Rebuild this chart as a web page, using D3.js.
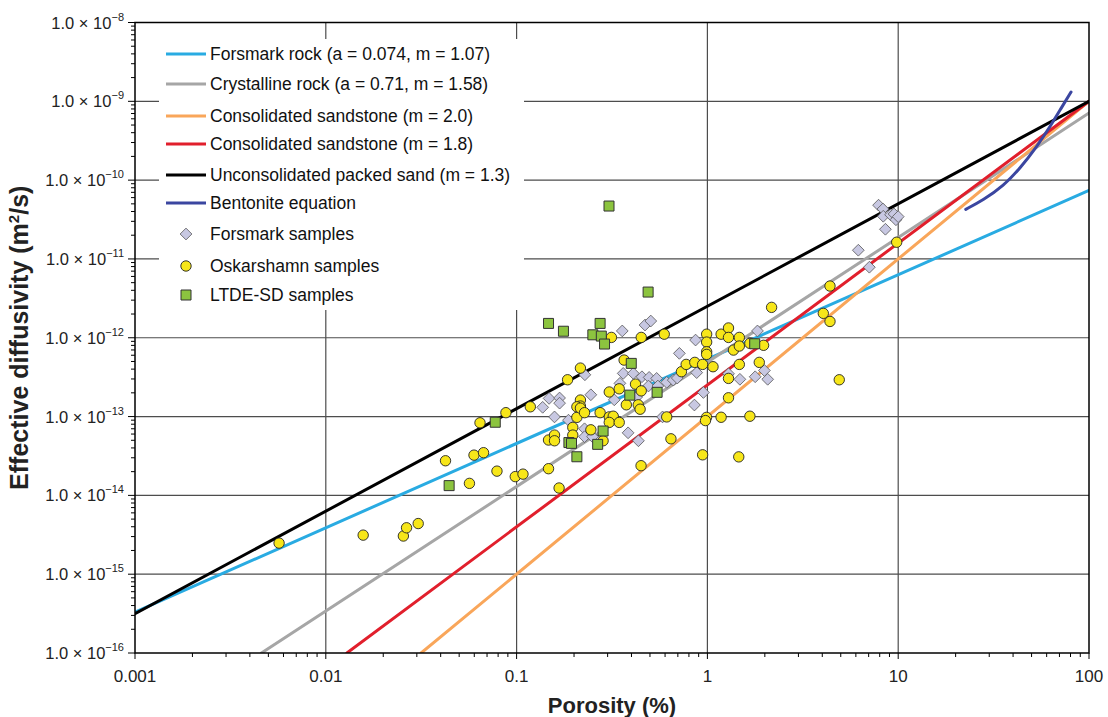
<!DOCTYPE html>
<html>
<head>
<meta charset="utf-8">
<script src="https://cdn.jsdelivr.net/npm/d3@7"></script>
<style>
  body { margin: 0; background: #fff; }
  svg { display: block; font-family: "Liberation Sans", Arial, sans-serif; }
</style>
</head>
<body>
<svg id="chart"></svg>
<script>
// porosity (%), effective diffusivity (m2/s)
const forsmarkSamples = [
  [0.148, 1.70e-13], [0.168, 1.72e-13], [0.168, 1.48e-13], [0.137, 1.31e-13], [0.158, 9.9e-14],
  [0.187, 9.0e-14], [0.228, 3.39e-13], [0.245, 1.89e-13], [0.227, 7.0e-14], [0.227, 5.55e-14],
  [0.250, 5.55e-14], [0.325, 1.63e-13], [0.348, 2.64e-13], [0.362, 3.53e-13], [0.409, 3.53e-13],
  [0.454, 3.20e-13], [0.495, 3.14e-13], [0.542, 3.05e-13], [0.491, 2.44e-13], [0.550, 2.44e-13],
  [0.612, 2.72e-13], [0.662, 2.90e-13], [0.695, 3.08e-13], [0.426, 1.77e-13], [0.384, 6.22e-14],
  [0.435, 4.93e-14], [0.358, 1.22e-12], [0.471, 1.45e-12], [0.505, 1.63e-12], [0.713, 6.34e-13],
  [0.867, 9.35e-13], [0.879, 3.61e-13], [0.855, 1.40e-13], [0.582, 9.9e-14], [0.953, 2.02e-13],
  [1.29, 3.49e-13], [1.48, 2.97e-13], [1.78, 3.20e-13], [1.99, 3.84e-13], [2.07, 2.97e-13],
  [1.83, 1.22e-12], [6.18, 1.29e-11], [7.06, 7.85e-12], [8.57, 2.38e-11], [7.89, 4.81e-11],
  [8.32, 4.30e-11], [8.35, 3.48e-11], [9.12, 3.63e-11], [9.51, 3.72e-11], [9.73, 3.14e-11],
  [10.0, 3.44e-11]
];

const oskarshamnSamples = [
  [0.00569, 2.48e-15], [0.0157, 3.13e-15], [0.0255, 3.05e-15], [0.0265, 3.88e-15], [0.0305, 4.39e-15],
  [0.0424, 2.75e-14], [0.0566, 1.42e-14], [0.0598, 3.24e-14], [0.0671, 3.48e-14], [0.0643, 8.34e-14],
  [0.0789, 2.03e-14], [0.0879, 1.12e-13], [0.0984, 1.73e-14], [0.108, 1.86e-14], [0.118, 1.33e-13],
  [0.147, 2.18e-14], [0.167, 1.24e-14], [0.147, 5.04e-14], [0.158, 5.82e-14], [0.158, 4.93e-14],
  [0.197, 7.29e-14], [0.197, 5.82e-14], [0.207, 9.77e-14], [0.216, 1.62e-13], [0.216, 1.36e-13],
  [0.207, 1.33e-13], [0.216, 1.28e-13], [0.227, 1.12e-13], [0.185, 2.93e-13], [0.216, 4.12e-13],
  [0.245, 6.79e-14], [0.274, 1.12e-13], [0.284, 4.93e-14], [0.306, 9.9e-14], [0.321, 1.01e-13],
  [0.306, 8.43e-14], [0.345, 8.43e-14], [0.306, 2.05e-13], [0.345, 2.25e-13], [0.420, 2.58e-13],
  [0.450, 2.12e-13], [0.376, 1.41e-13], [0.434, 1.41e-13], [0.444, 1.24e-13], [0.644, 5.22e-14],
  [0.449, 2.38e-14], [0.366, 5.21e-13], [0.314, 1.01e-12], [0.450, 1.01e-12], [0.594, 1.11e-12],
  [0.612, 9.9e-14], [0.731, 3.71e-13], [0.774, 4.59e-13], [0.859, 4.87e-13], [0.944, 4.59e-13],
  [1.07, 4.29e-13], [0.991, 1.11e-12], [0.991, 8.81e-13], [0.991, 6.64e-13], [0.991, 6.15e-13],
  [1.18, 1.11e-12], [1.29, 1.33e-12], [1.29, 1.01e-12], [1.47, 1.01e-12], [1.37, 6.98e-13],
  [1.47, 7.85e-13], [1.67, 8.49e-13], [1.97, 8.02e-13], [1.47, 4.59e-13], [1.87, 4.87e-13],
  [1.29, 3.05e-13], [1.29, 1.73e-13], [0.99, 9.77e-14], [0.977, 8.89e-14], [1.18, 9.8e-14],
  [1.67, 1.01e-13], [0.944, 3.27e-14], [1.46, 3.08e-14], [2.17, 2.43e-12], [4.05, 2.04e-12],
  [4.39, 1.61e-12], [4.39, 4.53e-12], [9.82, 1.63e-11], [4.91, 2.93e-13]
];

const ltdeSamples = [
  [0.305, 4.69e-11], [0.489, 3.80e-12], [0.147, 1.52e-12], [0.176, 1.21e-12], [0.274, 1.52e-12],
  [0.251, 1.09e-12], [0.278, 1.05e-12], [0.289, 8.32e-13], [0.399, 4.73e-13], [0.392, 1.87e-13],
  [0.545, 2.03e-13], [0.284, 6.55e-14], [0.266, 4.44e-14], [0.188, 4.68e-14], [0.194, 4.57e-14],
  [0.207, 3.09e-14], [0.0773, 8.47e-14], [0.0443, 1.33e-14], [1.77, 8.39e-13]
];

// model lines, straight on log-log axes: end points
const forsmarkRock = [[0.001, 3.3e-16], [100, 7.4e-11]];
const crystallineRock = [[0.0046, 1e-16], [100, 7.1e-10]];
const sandstone20 = [[0.0316, 1e-16], [100, 1e-9]];
const sandstone18 = [[0.0129, 1e-16], [100, 1e-9]];
const packedSand = [[0.001, 3.16e-16], [100, 1e-9]];
const bentoniteCurve = [
  [22.6, 4.26e-11], [27.9, 5.58e-11], [35.6, 8.41e-11], [43.5, 1.41e-10],
  [53.2, 2.65e-10], [62.5, 4.76e-10], [70.5, 7.76e-10], [80.5, 1.31e-9]
];

const xTicks = [0.001, 0.01, 0.1, 1, 10, 100];
const xTickLabels = ["0.001", "0.01", "0.1", "1", "10", "100"];
const yExponents = [-16, -15, -14, -13, -12, -11, -10, -9, -8];

const width = 1108;
const height = 717;
const margin = { top: 22.5, right: 19, bottom: 64, left: 135 };

const svg = d3.select("#chart").attr("width", width).attr("height", height);

const x = d3.scaleLog().domain([0.001, 100]).range([margin.left, width - margin.right]);
const y = d3.scaleLog().domain([1e-16, 1e-8]).range([height - margin.bottom, margin.top]);

const x0 = x.range()[0], x1 = x.range()[1];
const y0 = y.range()[0], y1 = y.range()[1];

// grid
const grid = svg.append("g").attr("stroke", "#4d4d4d").attr("stroke-width", 1.2);
grid.selectAll("line.gx").data(xTicks.slice(1, -1)).join("line")
  .attr("x1", d => x(d)).attr("x2", d => x(d)).attr("y1", y1).attr("y2", y0);
grid.selectAll("line.gy").data(yExponents.slice(1, -1)).join("line")
  .attr("y1", d => y(Math.pow(10, d))).attr("y2", d => y(Math.pow(10, d))).attr("x1", x0).attr("x2", x1);

// legend background hides the grid
svg.append("rect").attr("x", 159).attr("y", 39).attr("width", 365).attr("height", 271).attr("fill", "#fff");

// minor + major ticks
const minorX = [];
for (let e = -3; e < 2; e++) for (let k = 2; k <= 9; k++) minorX.push(k * Math.pow(10, e));
const minorY = [];
for (let e = -16; e < -8; e++) for (let k = 2; k <= 9; k++) minorY.push(k * Math.pow(10, e));

const ticks = svg.append("g").attr("stroke", "#000").attr("stroke-width", 1);
ticks.selectAll("line.mx").data(minorX).join("line")
  .attr("x1", d => x(d)).attr("x2", d => x(d)).attr("y1", y0).attr("y2", y0 + 4);
ticks.selectAll("line.Mx").data(xTicks).join("line")
  .attr("x1", d => x(d)).attr("x2", d => x(d)).attr("y1", y0).attr("y2", y0 + 6);
ticks.selectAll("line.my").data(minorY).join("line")
  .attr("y1", d => y(d)).attr("y2", d => y(d)).attr("x1", x0).attr("x2", x0 - 4);
ticks.selectAll("line.My").data(yExponents).join("line")
  .attr("y1", d => y(Math.pow(10, d))).attr("y2", d => y(Math.pow(10, d))).attr("x1", x0).attr("x2", x0 - 7);

// x tick labels
svg.append("g").selectAll("text").data(xTicks).join("text")
  .attr("x", d => x(d)).attr("y", y0 + 29)
  .attr("text-anchor", "middle").attr("font-size", 17).attr("fill", "#222")
  .text((d, i) => xTickLabels[i]);

// y tick labels, 1.0 × 10^n
const yl = svg.append("g").selectAll("text").data(yExponents).join("text")
  .attr("x", x0 - 11).attr("y", d => y(Math.pow(10, d)) + 6)
  .attr("text-anchor", "end").attr("font-size", 16.5).attr("fill", "#222");
yl.append("tspan").text("1.0 \u00d7 10");
yl.append("tspan").attr("dy", -8).attr("font-size", 11).text(d => "\u2212" + Math.abs(d));

// axis titles
svg.append("text").attr("x", (x0 + x1) / 2).attr("y", 713)
  .attr("text-anchor", "middle").attr("font-size", 22).attr("font-weight", "bold").attr("fill", "#222")
  .text("Porosity (%)");
const yt = svg.append("text")
  .attr("transform", `translate(28,${(y0 + y1) / 2}) rotate(-90)`)
  .attr("text-anchor", "middle").attr("font-size", 25).attr("font-weight", "bold").attr("fill", "#222");
yt.append("tspan").text("Effective diffusivity (m");
yt.append("tspan").attr("dy", -9).attr("font-size", 15).text("2");
yt.append("tspan").attr("dy", 9).text("/s)");

// model curves
const curves = [
  { name: "Forsmark rock (a = 0.074, m = 1.07)", color: "#29abe2", data: forsmarkRock },
  { name: "Crystalline rock (a = 0.71, m = 1.58)", color: "#a6a6a6", data: crystallineRock },
  { name: "Consolidated sandstone (m = 2.0)", color: "#f9a65a", data: sandstone20 },
  { name: "Consolidated sandstone (m = 1.8)", color: "#e11f2c", data: sandstone18 },
  { name: "Unconsolidated packed sand (m = 1.3)", color: "#000000", data: packedSand },
  { name: "Bentonite equation", color: "#3b46a0", data: bentoniteCurve }
];

const line = d3.line().x(d => x(d[0])).y(d => y(d[1])).curve(d3.curveBasis);

svg.append("defs").append("clipPath").attr("id", "plot")
  .append("rect").attr("x", x0).attr("y", y1).attr("width", x1 - x0).attr("height", y0 - y1);

svg.append("g").attr("clip-path", "url(#plot)")
  .selectAll("path").data(curves).join("path")
  .attr("d", d => line(d.data))
  .attr("fill", "none").attr("stroke", d => d.color).attr("stroke-width", 3)
  .attr("stroke-linecap", "round");

// sample markers
const diamond = d3.symbol().type(d3.symbolDiamond2).size(88);
const square = d3.symbol().type(d3.symbolSquare).size(100);

function drawDiamond(g) {
  g.append("path").attr("d", diamond()).attr("fill", "#c8c8e2").attr("stroke", "#555").attr("stroke-width", 0.8);
}
function drawCircle(g) {
  g.append("circle").attr("r", 5.2).attr("fill", "#f7e619").attr("stroke", "#222").attr("stroke-width", 0.9);
}
function drawSquare(g) {
  g.append("path").attr("d", square()).attr("fill", "#8cc43f").attr("stroke", "#333").attr("stroke-width", 1);
}

const samples = [
  { name: "Forsmark samples", data: forsmarkSamples, draw: drawDiamond },
  { name: "Oskarshamn samples", data: oskarshamnSamples, draw: drawCircle },
  { name: "LTDE-SD samples", data: ltdeSamples, draw: drawSquare }
];

samples.forEach(s => {
  svg.append("g").selectAll("g").data(s.data).join("g")
    .attr("transform", d => `translate(${x(d[0])},${y(d[1])})`)
    .each(function () { s.draw(d3.select(this)); });
});

// frame
svg.append("rect").attr("x", x0).attr("y", y1).attr("width", x1 - x0).attr("height", y0 - y1)
  .attr("fill", "none").attr("stroke", "#000").attr("stroke-width", 1.5);

// legend
const legend = svg.append("g").attr("font-size", 17.5).attr("fill", "#111");
const rowY = [54, 84, 116, 144, 175, 203, 234, 266, 295];
curves.forEach((c, i) => {
  legend.append("line").attr("x1", 166).attr("x2", 206).attr("y1", rowY[i]).attr("y2", rowY[i])
    .attr("stroke", c.color).attr("stroke-width", 3);
  legend.append("text").attr("x", 210).attr("y", rowY[i] + 6).text(c.name);
});
samples.forEach((s, j) => {
  const ry = rowY[curves.length + j];
  const g = legend.append("g").attr("transform", `translate(186,${ry})`);
  s.draw(g);
  legend.append("text").attr("x", 210).attr("y", ry + 6).text(s.name);
});
</script>
</body>
</html>
